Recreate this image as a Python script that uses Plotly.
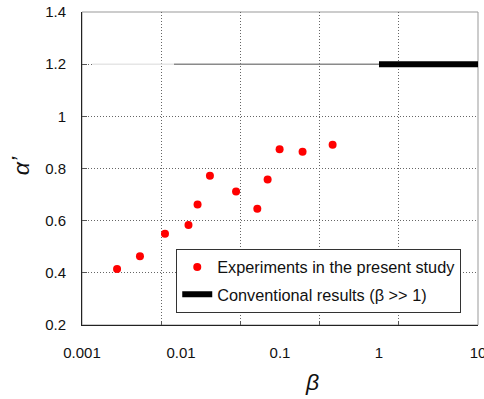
import plotly.graph_objects as go

beta_exp = [0.00226, 0.00385, 0.00689, 0.0119, 0.0147, 0.0196, 0.0360, 0.0590, 0.0750, 0.0991, 0.169, 0.340]
alpha_exp = [0.415, 0.464, 0.550, 0.583, 0.662, 0.772, 0.712, 0.646, 0.758, 0.874, 0.864, 0.891]

# Conventional result alpha' = 1.2
conv_beta = [1.0, 10.0]
conv_alpha = [1.2, 1.2]
thin_beta = [0.0085, 1.0]
thin_alpha = [1.2, 1.2]
faint_beta = [0.00127, 0.0085]
faint_alpha = [1.2, 1.2]

x_tickvals = [0.001, 0.01, 0.1, 1, 10]
x_ticktext = ["0.001", "0.01", "0.1", "1", "10"]

FONT = "Liberation Sans, Arial, sans-serif"

fig = go.Figure()
fig.add_trace(go.Scatter(x=faint_beta, y=faint_alpha, mode="lines",
                         line=dict(color="#e6e6e6", width=1.5), showlegend=False, hoverinfo="skip"))
fig.add_trace(go.Scatter(x=thin_beta, y=thin_alpha, mode="lines",
                         line=dict(color="#8a8a8a", width=1.5), showlegend=False, hoverinfo="skip"))
fig.add_trace(go.Scatter(x=beta_exp, y=alpha_exp, mode="markers",
                         marker=dict(color="#ff0000", size=8),
                         name="Experiments in the present study", legendgroup="a"))
fig.add_trace(go.Scatter(x=conv_beta, y=conv_alpha, mode="lines",
                         line=dict(color="#000000", width=6),
                         name="Conventional results (β >> 1)", legendgroup="b"))

GRID = dict(showgrid=True, gridcolor="#666666", griddash="1px,2px", gridwidth=1)

fig.update_layout(
    width=484, height=399,
    margin=dict(l=82, r=6, t=12, b=74, autoexpand=False),
    paper_bgcolor="white", plot_bgcolor="white",
    font=dict(family=FONT, size=15, color="#111111"),
    xaxis=dict(type="log", range=[-3, 1], tickvals=x_tickvals, ticktext=x_ticktext,
               showgrid=False, zeroline=False, showline=True, linecolor="#222222", linewidth=1,
               ticks="", ticklabelstandoff=14, ticklabeloverflow="allow", automargin=False),
    xaxis2=dict(overlaying="x", range=[0, 5], dtick=1, tick0=0, showticklabels=False,
                ticks="inside", ticklen=4, tickcolor="#555555", side="bottom",
                zeroline=False, showline=False, automargin=False, **GRID),
    yaxis=dict(range=[0.2, 1.4], dtick=0.2, tick0=0.2, automargin=False,
               zeroline=False, showline=True, linecolor="#222222", linewidth=1,
               ticks="inside", ticklen=5, tickcolor="#555555", ticklabelstandoff=12, **GRID),
    legend=dict(x=0.238, y=0.243, xanchor="left", yanchor="top",
                bgcolor="white", bordercolor="#333333", borderwidth=1,
                font=dict(family=FONT, size=16.3, color="#111111"),
                traceorder="grouped", tracegroupgap=3),
    shapes=[dict(type="rect", xref="paper", yref="paper", x0=0, x1=1, y0=0, y1=1,
                 line=dict(color="#999999", width=1), layer="below")],
    annotations=[
        dict(text="<i>α’</i>", xref="paper", yref="paper", x=-0.19, y=0.51,
             showarrow=False, textangle=-90, font=dict(family=FONT, size=23, color="#111111")),
        dict(text="<i>β</i>", xref="paper", yref="paper", x=0.581, y=-0.23,
             showarrow=False, font=dict(family=FONT, size=23, color="#111111")),
    ],
)
# invisible trace to activate the overlaying grid axis
fig.add_trace(go.Scatter(x=[0, 5], y=[0.2, 0.2], xaxis="x2", mode="markers",
                         marker=dict(opacity=0), showlegend=False, hoverinfo="skip"))

fig.write_html("out.html")
